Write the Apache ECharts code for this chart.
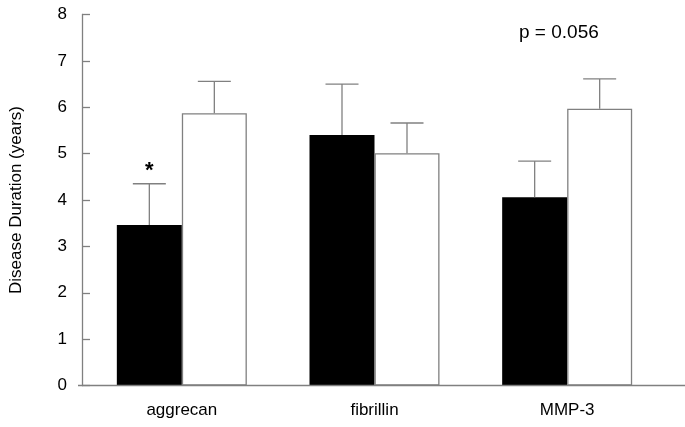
<!DOCTYPE html>
<html>
<head>
<meta charset="utf-8">
<script src="https://cdn.jsdelivr.net/npm/echarts@6/dist/echarts.min.js"></script>
<style>html,body{margin:0;padding:0;background:#fff}#c{width:685px;height:427px}</style>
</head>
<body>
<div id="c"></div>
<script>
const categories = ['aggrecan', 'fibrillin', 'MMP-3'];
const groupA = [3.46, 5.40, 4.06];      // black bars
const groupB = [5.87, 5.01, 5.97];      // white bars
const groupAUpper = [4.35, 6.50, 4.84]; // error bar tops, black
const groupBUpper = [6.56, 5.66, 6.61]; // error bar tops, white
const marks = ['*', '', ''];
const yTicks = [0, 1, 2, 3, 4, 5, 6, 7, 8];

const FONT = 'Liberation Sans, Arial, sans-serif';
const GRAY = '#808080';
const BAR_W = 65;

function errData(means, uppers, side) {
  return means.map((m, i) => [i, m, uppers[i], side, marks[i] && side < 0 ? marks[i] : '']);
}

function renderErr(params, api) {
  const i = api.value(0);
  const m = api.value(1);
  const u = api.value(2);
  const side = api.value(3);
  const p0 = api.coord([i, m]);
  const p1 = api.coord([i, u]);
  const x = p0[0] + side * BAR_W / 2;
  const cap = 16.5;
  const children = [
    {type: 'line', shape: {x1: x, y1: p0[1], x2: x, y2: p1[1]}, style: {stroke: GRAY, lineWidth: 1.3}},
    {type: 'line', shape: {x1: x - cap, y1: p1[1], x2: x + cap, y2: p1[1]}, style: {stroke: GRAY, lineWidth: 1.3}}
  ];
  const mk = api.value(4);
  if (mk) {
    children.push({type: 'text', style: {text: mk, x: x, y: p1[1] - 2, align: 'center', verticalAlign: 'bottom', font: 'bold 22px ' + FONT, fill: '#000'}});
  }
  return {type: 'group', children: children};
}

const chart = echarts.init(document.getElementById('c'), null, {renderer: 'canvas'});
chart.setOption({
  animation: false,
  backgroundColor: '#fff',
  title: {
    text: 'p = 0.056', left: 514, top: 18,
    textStyle: {fontFamily: FONT, fontSize: 19, fontWeight: 'normal', color: '#000'}
  },
  grid: {left: 81.5, right: 21.5, top: 14.5, bottom: 41.5, containLabel: false},
  xAxis: {
    type: 'category', data: categories,
    axisLine: {show: false}, axisTick: {show: false},
    axisLabel: {fontFamily: FONT, fontSize: 17, color: '#000', margin: 16}
  },
  yAxis: {
    type: 'value', min: 0, max: 8, interval: 1, offset: 3.5,
    name: 'Disease Duration (years)', nameLocation: 'middle', nameGap: 57,
    nameTextStyle: {fontFamily: FONT, fontSize: 17, color: '#000'},
    axisLine: {show: true, lineStyle: {color: GRAY, width: 1.3}},
    axisTick: {show: true, inside: true, length: 8, lineStyle: {color: GRAY, width: 1.3}},
    axisLabel: {fontFamily: FONT, fontSize: 17, color: '#000', margin: 15,
      formatter: v => yTicks.includes(v) ? String(v) : ''},
    splitLine: {show: false}
  },
  series: [
    {type: 'bar', data: groupA, barWidth: BAR_W, barGap: '0%',
      itemStyle: {color: '#000', borderColor: GRAY, borderWidth: 0}},
    {type: 'bar', data: groupB, barWidth: BAR_W, barGap: '0%',
      itemStyle: {color: '#fff', borderColor: GRAY, borderWidth: 1.3}},
    {type: 'custom', renderItem: renderErr, data: errData(groupA, groupAUpper, -1), z: 5,
      encode: {x: 0, y: [1, 2]}},
    {type: 'custom', renderItem: renderErr, data: errData(groupB, groupBUpper, 1), z: 5,
      encode: {x: 0, y: [1, 2]}}
  ]
});

// x axis baseline spanning from the y axis to the right edge
const y0 = chart.convertToPixel({yAxisIndex: 0}, 0);
chart.setOption({
  graphic: [{type: 'line', shape: {x1: 78, y1: y0, x2: 685, y2: y0}, style: {stroke: GRAY, lineWidth: 1.3}, z: 10}]
});
</script>
</body>
</html>
